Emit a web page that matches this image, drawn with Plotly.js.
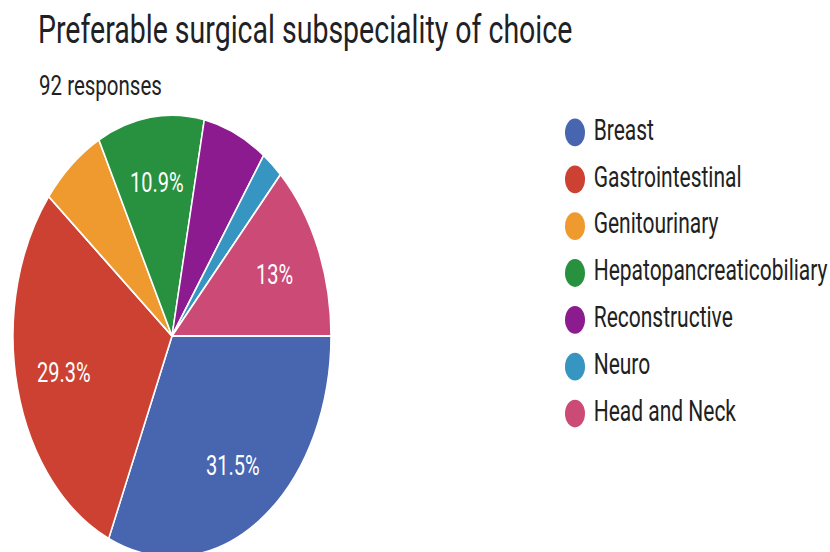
<!DOCTYPE html>
<html>
<head>
<meta charset="utf-8">
<script src="https://cdn.plot.ly/plotly-3.0.1.min.js"></script>
<style>
  html, body { margin: 0; padding: 0; background: #ffffff; }
  #wrap { width: 830px; height: 552px; overflow: hidden; position: relative; background: #fff; }
  #plot { width: 830px; height: 440px; transform: scaleY(1.39); transform-origin: 0 0; }
</style>
</head>
<body>
<div id="wrap"><div id="plot"></div></div>
<script>
// ---- data ----
const categories = ['Breast', 'Gastrointestinal', 'Genitourinary', 'Hepatopancreaticobiliary', 'Reconstructive', 'Neuro', 'Head and Neck'];
const counts = [29, 27, 6, 10, 6, 2, 12];
const sliceColors = ['#4865B0', '#CC4131', '#EE9A2E', '#27913F', '#8B1B8F', '#3795C1', '#CC4A76'];
const chartTitle = 'Preferable surgical subspeciality of choice';
const responsesLabel = '92 responses';

const total = counts.reduce((a, b) => a + b, 0);
const pctText = counts.map(v => {
  const p = v / total * 100;
  if (p < 10) return '';
  return (+p.toPrecision(3)).toString() + '%';
});

const FONT = 'Roboto, "Noto Sans", Arial, sans-serif';
const H = 440;

// pie geometry (layout only)
const pieDomX = [13 / 830, 331 / 830];
const pieDomY = [(H - 241.7 - 159) / H, (H - 241.7 + 159) / H];
const LABEL_R = 0.7;   // labels placed at 70% of radius along slice mid-angle

const pie = {
  type: 'pie',
  labels: categories,
  values: counts,
  textinfo: 'none',
  sort: false,
  direction: 'clockwise',
  rotation: 90,
  marker: { colors: sliceColors, line: { color: '#ffffff', width: 1.5 } },
  domain: { x: pieDomX, y: pieDomY },
  showlegend: false,
  hoverinfo: 'label+value+percent'
};

// percentage labels as annotations on an axis pair aligned with the pie
const labelAnns = [];
let cum = 0;
counts.forEach((v, i) => {
  const mid = (cum + v / 2) / total * 2 * Math.PI;  // clockwise from 3 o'clock
  cum += v;
  if (!pctText[i]) return;
  labelAnns.push({
    xref: 'x2', yref: 'y2',
    x: LABEL_R * Math.cos(mid),
    y: -LABEL_R * Math.sin(mid),
    text: pctText[i],
    showarrow: false,
    xanchor: 'center', yanchor: 'middle',
    font: { family: FONT, size: 20, color: '#ffffff' }
  });
});

const legendTrace = {
  type: 'scatter',
  mode: 'markers+text',
  x: categories.map(() => 0),
  y: categories,
  text: categories.map(c => '\u00a0' + c),
  textposition: 'middle right',
  textfont: { family: FONT, size: 21, color: '#212121' },
  marker: { size: 20, color: sliceColors },
  xaxis: 'x', yaxis: 'y',
  cliponaxis: false,
  showlegend: false,
  hoverinfo: 'skip'
};

const layout = {
  width: 830,
  height: H,
  margin: { l: 0, r: 0, t: 0, b: 0 },
  paper_bgcolor: '#ffffff',
  plot_bgcolor: 'rgba(0,0,0,0)',
  showlegend: false,
  title: {
    text: chartTitle,
    font: { family: FONT, size: 28.5, color: '#202124' },
    x: 38 / 830, xanchor: 'left', xref: 'paper',
    y: 1 - 11 / H, yanchor: 'top', yref: 'paper',
    pad: { t: 0, l: 0, r: 0, b: 0 }
  },
  annotations: [{
    text: responsesLabel,
    xref: 'paper', yref: 'paper',
    x: 37 / 830, xanchor: 'left',
    y: 1 - 47 / H, yanchor: 'top',
    showarrow: false,
    font: { family: FONT, size: 20.5, color: '#202124' }
  }].concat(labelAnns),
  xaxis: { domain: [575 / 830, 1], range: [0, 1], visible: false, fixedrange: true },
  yaxis: { domain: [(H - 297.5) / H, (H - 95.3) / H], type: 'category', range: [6, 0], visible: false, fixedrange: true },
  xaxis2: { domain: pieDomX, range: [-1, 1], visible: false, fixedrange: true },
  yaxis2: { domain: pieDomY, range: [-1, 1], visible: false, fixedrange: true, anchor: 'x2' }
};
layout.xaxis2.anchor = 'y2';

Plotly.newPlot('plot', [pie, legendTrace], layout, { displayModeBar: false, staticPlot: true });
</script>
</body>
</html>
